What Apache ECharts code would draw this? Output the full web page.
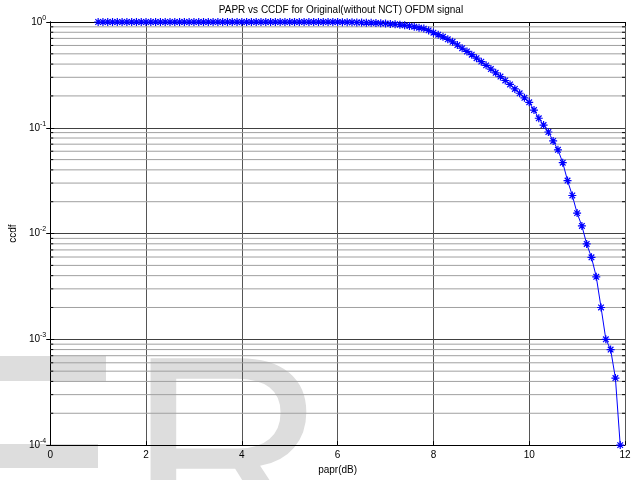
<!DOCTYPE html>
<html>
<head>
<meta charset="utf-8">
<script src="https://cdn.jsdelivr.net/npm/echarts@6/dist/echarts.min.js"></script>
<style>
html, body { margin: 0; padding: 0; background: #fff; }
#main { width: 639px; height: 480px; }
</style>
</head>
<body>
<div id="main"></div>
<script>
// papr in dB (0.1 dB steps)
var papr = [
    1.0, 1.1, 1.2, 1.3, 1.4, 1.5, 1.6, 1.7, 1.8, 1.9,
    2.0, 2.1, 2.2, 2.3, 2.4, 2.5, 2.6, 2.7, 2.8, 2.9,
    3.0, 3.1, 3.2, 3.3, 3.4, 3.5, 3.6, 3.7, 3.8, 3.9,
    4.0, 4.1, 4.2, 4.3, 4.4, 4.5, 4.6, 4.7, 4.8, 4.9,
    5.0, 5.1, 5.2, 5.3, 5.4, 5.5, 5.6, 5.7, 5.8, 5.9,
    6.0, 6.1, 6.2, 6.3, 6.4, 6.5, 6.6, 6.7, 6.8, 6.9,
    7.0, 7.1, 7.2, 7.3, 7.4, 7.5, 7.6, 7.7, 7.8, 7.9,
    8.0, 8.1, 8.2, 8.3, 8.4, 8.5, 8.6, 8.7, 8.8, 8.9,
    9.0, 9.1, 9.2, 9.3, 9.4, 9.5, 9.6, 9.7, 9.8, 9.9,
    10.0, 10.1, 10.2, 10.3, 10.4, 10.5, 10.6, 10.7, 10.8, 10.9,
    11.0, 11.1, 11.2, 11.3, 11.4, 11.5, 11.6, 11.7, 11.8, 11.9
];
var ccdf = [
    1, 1, 1, 1, 1, 1, 1, 1, 1, 1,
    1, 1, 1, 1, 1, 1, 1, 1, 1, 1,
    1, 1, 1, 1, 1, 1, 1, 1, 1, 1,
    1, 1, 1, 1, 1, 1, 1, 1, 1, 1,
    1, 1, 1, 1, 1, 1, 1, 1, 1, 1,
    0.998, 0.997, 0.996, 0.994, 0.991, 0.988, 0.985, 0.982, 0.979, 0.973,
    0.968, 0.960, 0.952, 0.942, 0.931, 0.917, 0.902, 0.884, 0.866, 0.833,
    0.792, 0.759, 0.724, 0.686, 0.650, 0.606, 0.565, 0.527, 0.491, 0.455,
    0.422, 0.389, 0.359, 0.331, 0.305, 0.280, 0.257, 0.233, 0.212, 0.192,
    0.174, 0.147, 0.123, 0.106, 0.0912, 0.0751, 0.0619, 0.0468, 0.0317, 0.0229,
    0.0156, 0.0118, 0.00797, 0.00596, 0.0039, 0.002, 0.001, 0.0008, 0.00043, 0.0001
];
var xTicks = [0, 2, 4, 6, 8, 10, 12];
var decades = [1e-4, 1e-3, 1e-2, 1e-1, 1];
var minorSteps = [2, 3, 4, 5, 6, 7, 8, 9];

var FONT = 'Liberation Sans';

var curve = [];
for (var i = 0; i < papr.length; i++) curve.push([papr[i], ccdf[i]]);

// minor grid lines at 2..9 x each decade (matlab style log grid)
var minorGrid = [];
for (var d = 0; d < decades.length - 1; d++) {
    for (var k = 0; k < minorSteps.length; k++) {
        minorGrid.push([0, +(decades[d] * minorSteps[k]).toPrecision(3)]);
    }
}

var asterisk = 'path://M5,0L5,10M0,5L10,5M1.5,1.5L8.5,8.5M8.5,1.5L1.5,8.5';

function powLabel(v) {
    return '{b|10}{s|' + Math.round(Math.log10(v)) + '}';
}

var chart = echarts.init(document.getElementById('main'));
chart.setOption({
    animation: false,
    backgroundColor: '#fff',
    title: {
        text: 'PAPR vs CCDF for Original(without NCT) OFDM signal',
        left: 336,
        textAlign: 'center',
        top: 0,
        textStyle: { fontFamily: FONT, fontSize: 10, fontWeight: 'normal', color: '#000' }
    },
    graphic: [
        // faint "ER" watermark behind the plot
        { type: 'rect', z: -100, shape: { x: 0, y: 356, width: 106, height: 25 }, style: { fill: '#dddddd' } },
        { type: 'rect', z: -100, shape: { x: 0, y: 444, width: 98, height: 24 }, style: { fill: '#dddddd' } },
        { type: 'text', z: -100, x: 128, y: 334, style: {
            text: 'R', fontFamily: FONT, fontSize: 275, fill: '#dddddd', verticalAlign: 'top'
        } }
    ],
    grid: { left: 47, right: 14, top: 22, bottom: 31 },
    xAxis: [{
        type: 'value',
        min: 0, max: 12, interval: 2,
        name: 'papr(dB)',
        nameLocation: 'middle',
        nameGap: 19,
        nameTextStyle: { fontFamily: FONT, fontSize: 10, color: '#000' },
        axisLine: { lineStyle: { color: '#000', width: 1 } },
        axisTick: { inside: true, length: 4, lineStyle: { color: '#000' } },
        axisLabel: { fontFamily: FONT, fontSize: 10, color: '#000', margin: 5 },
        splitLine: { show: true, lineStyle: { color: '#555', width: 1 } }
    }, {
        type: 'value',
        position: 'top',
        min: 0, max: 12, interval: 2,
        axisLine: { lineStyle: { color: '#000', width: 1 } },
        axisTick: { inside: true, length: 4, lineStyle: { color: '#000' } },
        axisLabel: { show: false },
        splitLine: { show: false }
    }],
    yAxis: [{
        type: 'log',
        logBase: 10,
        min: 1e-4, max: 1,
        splitNumber: 4,
        name: 'ccdf',
        nameLocation: 'middle',
        nameGap: 23,
        nameTextStyle: { fontFamily: FONT, fontSize: 10, color: '#000' },
        axisLine: { lineStyle: { color: '#000', width: 1 } },
        axisTick: { inside: true, length: 4, lineStyle: { color: '#000' } },
        axisLabel: {
            margin: 4,
            formatter: powLabel,
            rich: {
                b: { fontFamily: FONT, fontSize: 10, color: '#000' },
                s: { fontFamily: FONT, fontSize: 7, color: '#000', padding: [0, 0, 8, 0] }
            }
        },
        splitLine: { show: true, lineStyle: { color: '#404040', width: 1 } }
    }, {
        type: 'log',
        logBase: 10,
        position: 'right',
        min: 1e-4, max: 1,
        splitNumber: 4,
        axisLine: { lineStyle: { color: '#000', width: 1 } },
        axisTick: { inside: true, length: 4, lineStyle: { color: '#000' } },
        axisLabel: { show: false },
        splitLine: { show: false }
    }],
    series: [{
        type: 'custom',
        silent: true,
        z: 1,
        clip: false,
        data: minorGrid,
        encode: { x: 0, y: 1 },
        renderItem: function (params, api) {
            var v = api.value(1);
            var a = api.coord([0, v]);
            var b = api.coord([12, v]);
            return {
                type: 'group',
                children: [
                    { type: 'line', shape: { x1: a[0], y1: a[1], x2: b[0], y2: b[1] }, style: { stroke: '#a0a0a0', lineWidth: 1 } },
                    { type: 'line', shape: { x1: a[0], y1: a[1], x2: a[0] + 3, y2: a[1] }, style: { stroke: '#000', lineWidth: 1 } },
                    { type: 'line', shape: { x1: b[0] - 3, y1: b[1], x2: b[0], y2: b[1] }, style: { stroke: '#000', lineWidth: 1 } }
                ]
            };
        }
    }, {
        name: 'ccdf',
        type: 'line',
        z: 5,
        data: curve,
        symbol: asterisk,
        symbolSize: 8,
        showAllSymbol: true,
        itemStyle: { color: '#0000ff', borderColor: '#0000ff', borderWidth: 1.2 },
        lineStyle: { color: '#0000ff', width: 1 }
    }]
});
</script>
</body>
</html>
